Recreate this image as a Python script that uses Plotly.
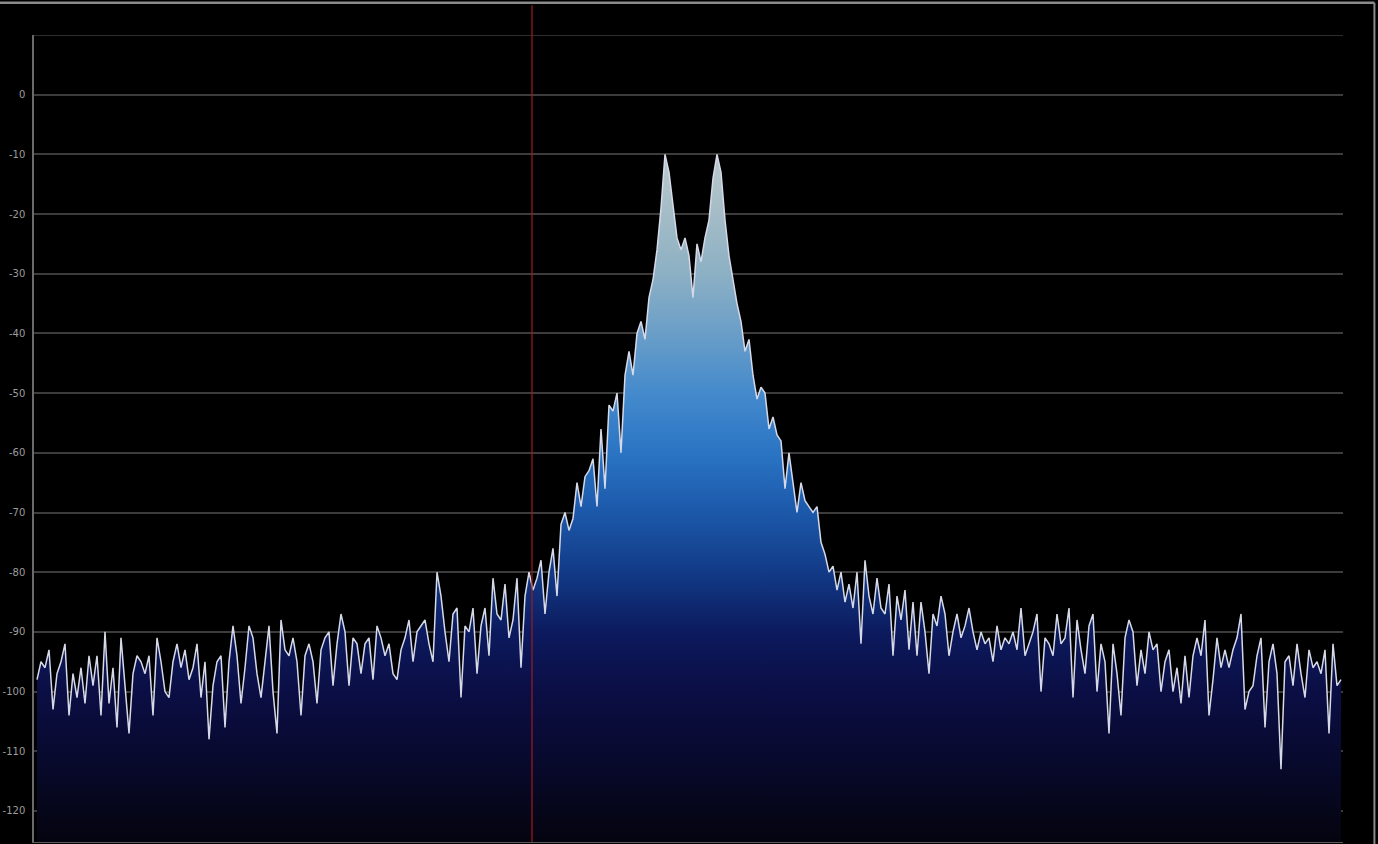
import plotly.graph_objects as go

# ---- data (dB level per frequency bin) ----
levels_db = [
    -98, -95, -96, -93, -103, -97, -95, -92, -104, -97,
    -101, -96, -102, -94, -99, -94, -104, -90, -102, -96,
    -106, -91, -99, -107, -97, -94, -95, -97, -94, -104,
    -91, -95, -100, -101, -95, -92, -96, -93, -98, -96,
    -92, -101, -95, -108, -99, -95, -94, -106, -95, -89,
    -94, -102, -96, -89, -91, -97, -101, -95, -89, -100,
    -107, -88, -93, -94, -91, -95, -104, -94, -92,
    -95, -102, -93, -91, -90, -99, -92, -87, -90, -99,
    -91, -92, -97, -92, -91, -98, -89, -91, -94, -92,
    -97, -98, -93, -91, -88, -95, -90, -89, -88, -92,
    -95, -80, -84, -90, -95, -87, -86, -101, -89, -90,
    -86, -97, -89, -86, -94, -81, -87, -88, -82, -91,
    -88, -81, -96, -84, -80, -83, -81, -78, -87, -80,
    -76, -84, -72, -70, -73, -71, -65, -69, -64, -63,
    -61, -69, -56, -66, -52, -53, -50, -60, -47, -43,
    -47, -40, -38, -41, -34, -31, -26, -19, -10, -13,
    -19, -24, -26, -24, -27, -34, -25, -28, -24, -21,
    -14, -10, -13, -21, -27, -31, -35, -38, -43, -41,
    -47, -51, -49, -50, -56, -54, -57, -58, -66, -60,
    -65, -70, -65, -68, -69, -70, -69, -75, -77, -80,
    -79, -83, -80, -85,
    -82, -86, -80, -92, -78, -84, -87, -81, -86, -87,
    -82, -94, -84, -88, -83, -93, -85, -94, -85, -90,
    -97, -87, -89, -84, -87, -94, -90, -87, -91, -89,
    -86, -90, -93, -90, -92, -91, -95, -89, -93, -91,
    -92, -90, -93, -86, -94, -92, -90, -87, -100, -91,
    -92, -94, -87, -92, -91, -86, -101, -88, -93, -97,
    -89, -87, -100,
    -92, -95, -107, -92, -97, -104, -91, -88, -90, -99,
    -93, -97, -90, -93, -92, -100, -95, -93, -100, -96,
    -102, -94, -101, -94, -91, -94, -88, -104, -98, -91,
    -96, -93, -96, -93, -91, -87, -103, -100, -99, -94,
    -91, -106, -95, -92, -97, -113, -95, -94, -99, -92,
    -97, -101, -93, -96, -95, -97, -93, -107, -92, -99,
    -98,
]
freq_bins = list(range(len(levels_db)))

y_tick_values = [0, -10, -20, -30, -40, -50, -60, -70, -80, -90, -100, -110, -120]
y_tick_labels = ["0", "-10", "-20", "-30", "-40", "-50", "-60", "-70", "-80", "-90", "-100", "-110", "-120"]

marker_bin = 123.75      # red cursor position (bin)
floor_db = -125.2        # bottom of the display
top_db = 10

fig = go.Figure()

# baseline for the filled area
fig.add_trace(go.Scatter(
    x=freq_bins, y=[floor_db] * len(freq_bins),
    mode="lines", line=dict(width=0, color="rgba(0,0,0,0)"),
    hoverinfo="skip", showlegend=False,
))

fig.add_trace(go.Scatter(
    x=freq_bins, y=levels_db,
    mode="lines",
    line=dict(color="#d6d9e8", width=1.5),
    fill="tonexty",
    fillgradient=dict(
        type="vertical",
        start=-125, stop=-10,
        colorscale=[
            [0.0, "#040410"],
            [0.043, "#06061a"],
            [0.13, "#080a30"],
            [0.217, "#0b0e44"],
            [0.304, "#0c1a5e"],
            [0.391, "#123a86"],
            [0.478, "#1c58aa"],
            [0.565, "#2a74c4"],
            [0.652, "#448acc"],
            [0.739, "#6a9ec8"],
            [0.826, "#8cb0c4"],
            [0.913, "#a4bcc6"],
            [1.0, "#b8c8cc"],
        ],
    ),
    showlegend=False,
))

shapes = [
    # top (+10) grid line
    dict(type="line", xref="paper", yref="y", x0=0, x1=1, y0=top_db, y1=top_db,
         line=dict(color="#3c3c3c", width=1.5), layer="below"),
    # red cursor line
    dict(type="line", xref="x", yref="paper", x0=marker_bin, x1=marker_bin, y0=0, y1=1.037,
         line=dict(color="#a01c1c", width=1.2)),
    # image frame top / right
    dict(type="line", xref="paper", yref="paper", x0=-0.03, x1=1.024, y0=1.04, y1=1.04,
         line=dict(color="#8a8a8a", width=2.5)),
    dict(type="line", xref="paper", yref="paper", x0=1.024, x1=1.024, y0=-0.01, y1=1.04,
         line=dict(color="#8a8a8a", width=2)),
]

fig.update_layout(
    width=1378, height=844,
    paper_bgcolor="#000000",
    plot_bgcolor="#000000",
    margin=dict(l=34, r=35, t=35, b=2),
    showlegend=False,
    shapes=shapes,
    xaxis=dict(
        range=[-0.75, 326.5],
        showgrid=False, zeroline=False,
        showticklabels=False, ticks="",
        showline=True, linecolor="#5a5a5a", linewidth=1,
    ),
    yaxis=dict(
        range=[floor_db, top_db],
        tickvals=y_tick_values, ticktext=y_tick_labels,
        showgrid=True, gridcolor="#3c3c3c", gridwidth=1.5,
        zeroline=False,
        showline=True, linecolor="#6a6a6a", linewidth=1.5,
        ticks="", ticklabelstandoff=5,
        tickfont=dict(family="DejaVu Sans", size=10, color="#9c9c9c"),
    ),
)

fig.write_html(
    "out.html",
    config={"displayModeBar": False},
    post_script="document.body.style.margin='0';document.body.style.overflow='hidden';",
)
